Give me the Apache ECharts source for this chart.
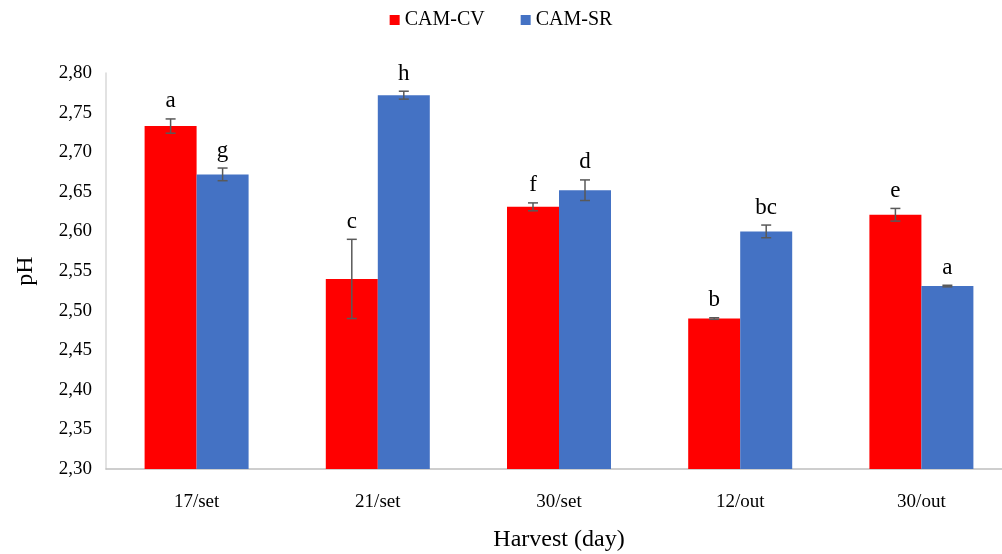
<!DOCTYPE html>
<html>
<head>
<meta charset="utf-8">
<script src="https://cdn.jsdelivr.net/npm/echarts@6/dist/echarts.min.js"></script>
<style>
  html, body { margin: 0; padding: 0; background: #fff; }
  #chart { width: 1002px; height: 554px; }
</style>
</head>
<body>
<div id="chart"></div>
<script>
// harvest dates
const categories = ['17/set', '21/set', '30/set', '12/out', '30/out'];

// CAM-CV
const cvMeans   = [2.733, 2.540, 2.631, 2.490, 2.621];
const cvErrors  = [0.009, 0.050, 0.005, 0.001, 0.008];
const cvLetters = ['a', 'c', 'f', 'b', 'e'];

// CAM-SR
const srMeans   = [2.672, 2.772, 2.652, 2.600, 2.531];
const srErrors  = [0.008, 0.005, 0.013, 0.008, 0.001];
const srLetters = ['g', 'h', 'd', 'bc', 'a'];

const yTicks = [2.30, 2.35, 2.40, 2.45, 2.50, 2.55, 2.60, 2.65, 2.70, 2.75, 2.80];

const FONT = 'Liberation Serif';
const BAR_W = 52;

function errData(means, errs, letters) {
    return means.map(function(m, i) { return [i, m - errs[i], m + errs[i], letters[i]]; });
}

function errRender(side) {
    return function(params, api) {
        let i = api.value(0);
        let lo = api.coord([i, api.value(1)]);
        let hi = api.coord([i, api.value(2)]);
        let x = lo[0] + side * BAR_W / 2;
        let cap = 5;
        let stroke = { stroke: '#595959', lineWidth: 1.5 };
        return {
            type: 'group',
            children: [
                { type: 'line', shape: { x1: x, y1: lo[1], x2: x, y2: hi[1] }, style: stroke },
                { type: 'line', shape: { x1: x - cap, y1: lo[1], x2: x + cap, y2: lo[1] }, style: stroke },
                { type: 'line', shape: { x1: x - cap, y1: hi[1], x2: x + cap, y2: hi[1] }, style: stroke },
                { type: 'text', style: {
                    text: api.value(3), x: x, y: hi[1] - 6,
                    align: 'center', verticalAlign: 'bottom',
                    fontSize: 23, fontFamily: FONT, fill: '#000'
                } }
            ]
        };
    };
}

let myChart = echarts.init(document.getElementById('chart'));
let option = {
    animation: false,
    legend: {
        top: 5,
        left: 'center',
        icon: 'rect',
        itemWidth: 10,
        itemHeight: 10,
        itemGap: 36,
        data: ['CAM-CV', 'CAM-SR'],
        textStyle: { fontFamily: FONT, fontSize: 20, color: '#000' }
    },
    // plot area runs past the right edge, as in the cropped original
    grid: { left: 106, width: 906, top: 73, bottom: 85, outerBoundsMode: 'none' },
    xAxis: {
        type: 'category',
        data: categories,
        name: 'Harvest (day)',
        nameLocation: 'middle',
        nameGap: 59,
        nameTextStyle: { fontFamily: FONT, fontSize: 24, color: '#000' },
        axisLine: { lineStyle: { color: '#bfbfbf', width: 1.5 } },
        axisTick: { show: false },
        axisLabel: { margin: 24, fontFamily: FONT, fontSize: 19, color: '#000' }
    },
    yAxis: {
        type: 'value',
        min: yTicks[0],
        max: yTicks[yTicks.length - 1],
        interval: 0.05,
        name: 'pH',
        nameLocation: 'middle',
        nameGap: 68,
        nameTextStyle: { fontFamily: FONT, fontSize: 24, color: '#000' },
        axisLine: { show: true, lineStyle: { color: '#d9d9d9', width: 1.5 } },
        axisTick: { show: false },
        splitLine: { show: false },
        axisLabel: {
            margin: 14, fontFamily: FONT, fontSize: 19, color: '#000',
            formatter: function(v) { return v.toFixed(2).replace('.', ','); }
        }
    },
    series: [
        { name: 'CAM-CV', type: 'bar', data: cvMeans, barWidth: BAR_W, barGap: '0%',
          itemStyle: { color: '#ff0000' } },
        { name: 'CAM-SR', type: 'bar', data: srMeans, barWidth: BAR_W, barGap: '0%',
          itemStyle: { color: '#4472c4' } },
        { type: 'custom', renderItem: errRender(-1), data: errData(cvMeans, cvErrors, cvLetters),
          encode: { x: 0, y: [1, 2] }, z: 10 },
        { type: 'custom', renderItem: errRender(1), data: errData(srMeans, srErrors, srLetters),
          encode: { x: 0, y: [1, 2] }, z: 10 }
    ]
};
myChart.setOption(option);
</script>
</body>
</html>
